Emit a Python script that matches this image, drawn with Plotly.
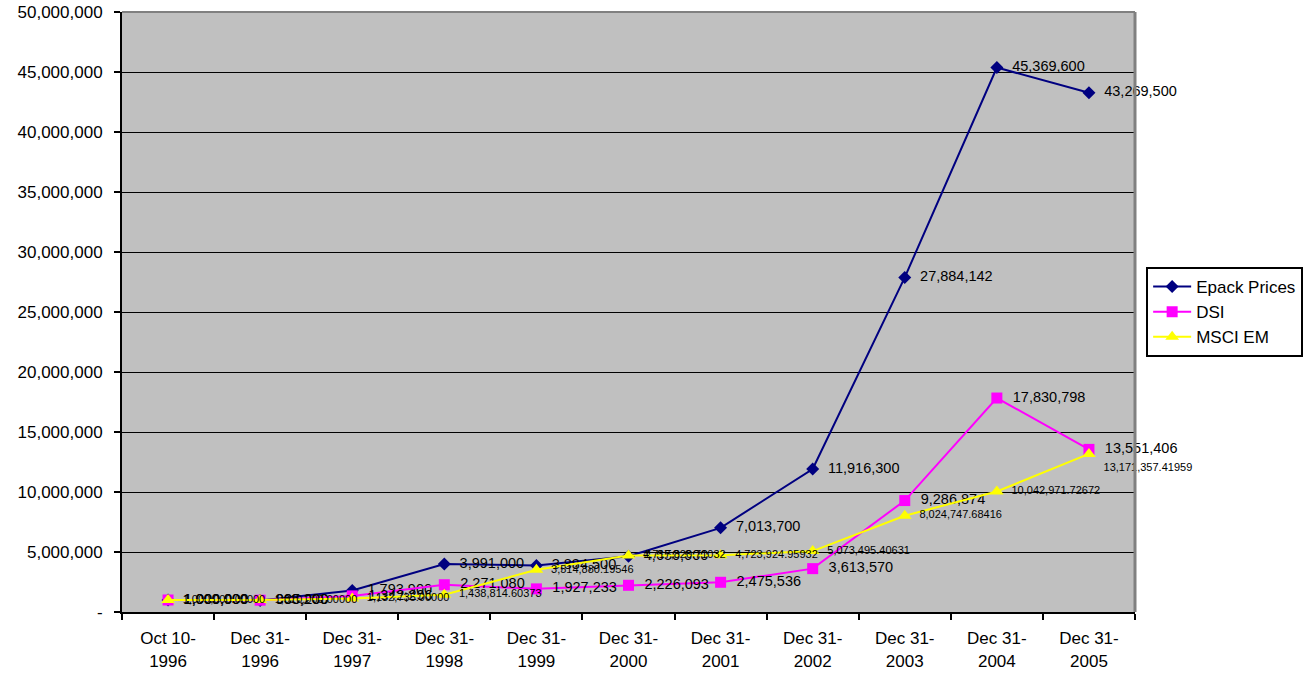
import plotly.graph_objects as go

categories = ["Oct 10-<br>1996", "Dec 31-<br>1996", "Dec 31-<br>1997", "Dec 31-<br>1998",
              "Dec 31-<br>1999", "Dec 31-<br>2000", "Dec 31-<br>2001", "Dec 31-<br>2002",
              "Dec 31-<br>2003", "Dec 31-<br>2004", "Dec 31-<br>2005"]
epack = [1000000, 968200, 1793900, 3991000, 3884500, 4650600, 7013700, 11916300,
         27884142, 45369600, 43269500]
dsi = [1000000, 985200, 1342296, 2271080, 1927233, 2226093, 2475536, 3613570,
       9286874, 17830798, 13551406]
msci = [1000000.0, 1010000.0, 1132735.0, 1438814.60373, 3514880.19546, 4717820.71032,
        4723924.95932, 5073495.40631, 8024747.68416, 10042971.72672, 13171357.41959]

ytick_vals = list(range(0, 50000001, 5000000))
ytick_text = ["-"] + [f"{v:,}" for v in ytick_vals[1:]]

font_family = "Liberation Sans, Arial, sans-serif"

msci_pos = ["middle right"] * (len(msci) - 1) + ["bottom right"]

fig = go.Figure()
fig.add_trace(go.Scatter(
    x=categories, y=epack, name="Epack Prices", mode="lines+markers+text",
    line=dict(color="#000080", width=2),
    marker=dict(symbol="diamond", size=10, color="#000080"),
    text=[f"  {v:,}" for v in epack], textposition="middle right",
    textfont=dict(size=14.5, color="#000000", family=font_family),
    cliponaxis=False,
))
fig.add_trace(go.Scatter(
    x=categories, y=dsi, name="DSI", mode="lines+markers+text",
    line=dict(color="#FF00FF", width=2),
    marker=dict(symbol="square", size=11, color="#FF00FF"),
    text=[f"  {v:,}" for v in dsi], textposition="middle right",
    textfont=dict(size=14.5, color="#000000", family=font_family),
    cliponaxis=False,
))
fig.add_trace(go.Scatter(
    x=categories, y=msci, name="MSCI EM", mode="lines+markers+text",
    line=dict(color="#FFFF00", width=2),
    marker=dict(symbol="triangle-up", size=12, color="#FFFF00"),
    text=[f"  {v:,.5f}" for v in msci], textposition=msci_pos,
    textfont=dict(size=11, color="#000000", family=font_family),
    cliponaxis=False,
))

fig.update_layout(
    width=1315, height=677,
    margin=dict(l=122, r=178, t=12, b=65),
    paper_bgcolor="#FFFFFF",
    plot_bgcolor="#C0C0C0",
    font=dict(family=font_family, size=17, color="#000000"),
    showlegend=True,
    legend=dict(x=1.011, y=0.5, xanchor="left", yanchor="middle",
                bordercolor="#000000", borderwidth=2, bgcolor="#FFFFFF",
                itemwidth=38,
                font=dict(size=17, family=font_family)),
    xaxis=dict(type="category", showgrid=False, showline=True, linecolor="#000000",
               linewidth=2, ticks="outside", tickson="boundaries", ticklen=6,
               tickcolor="#000000", tickwidth=2, mirror=False, automargin=False,
               ticklabelstandoff=10,
               tickfont=dict(size=17), range=[-0.5, 10.5]),
    yaxis=dict(range=[0, 50000000], tickvals=ytick_vals, ticktext=ytick_text,
               showgrid=True, gridcolor="#000000", gridwidth=1,
               showline=True, linecolor="#000000", linewidth=2,
               ticks="outside", ticklen=6, tickcolor="#000000", tickwidth=2,
               ticklabelstandoff=8,
               automargin=False, tickfont=dict(size=17), zeroline=False),
    shapes=[
        dict(type="line", xref="paper", yref="paper", x0=1, x1=1, y0=0, y1=1,
             line=dict(color="#808080", width=3)),
        dict(type="line", xref="paper", yref="paper", x0=0, x1=1, y0=1, y1=1,
             line=dict(color="#808080", width=2)),
    ],
)

fig.write_html("out.html")
